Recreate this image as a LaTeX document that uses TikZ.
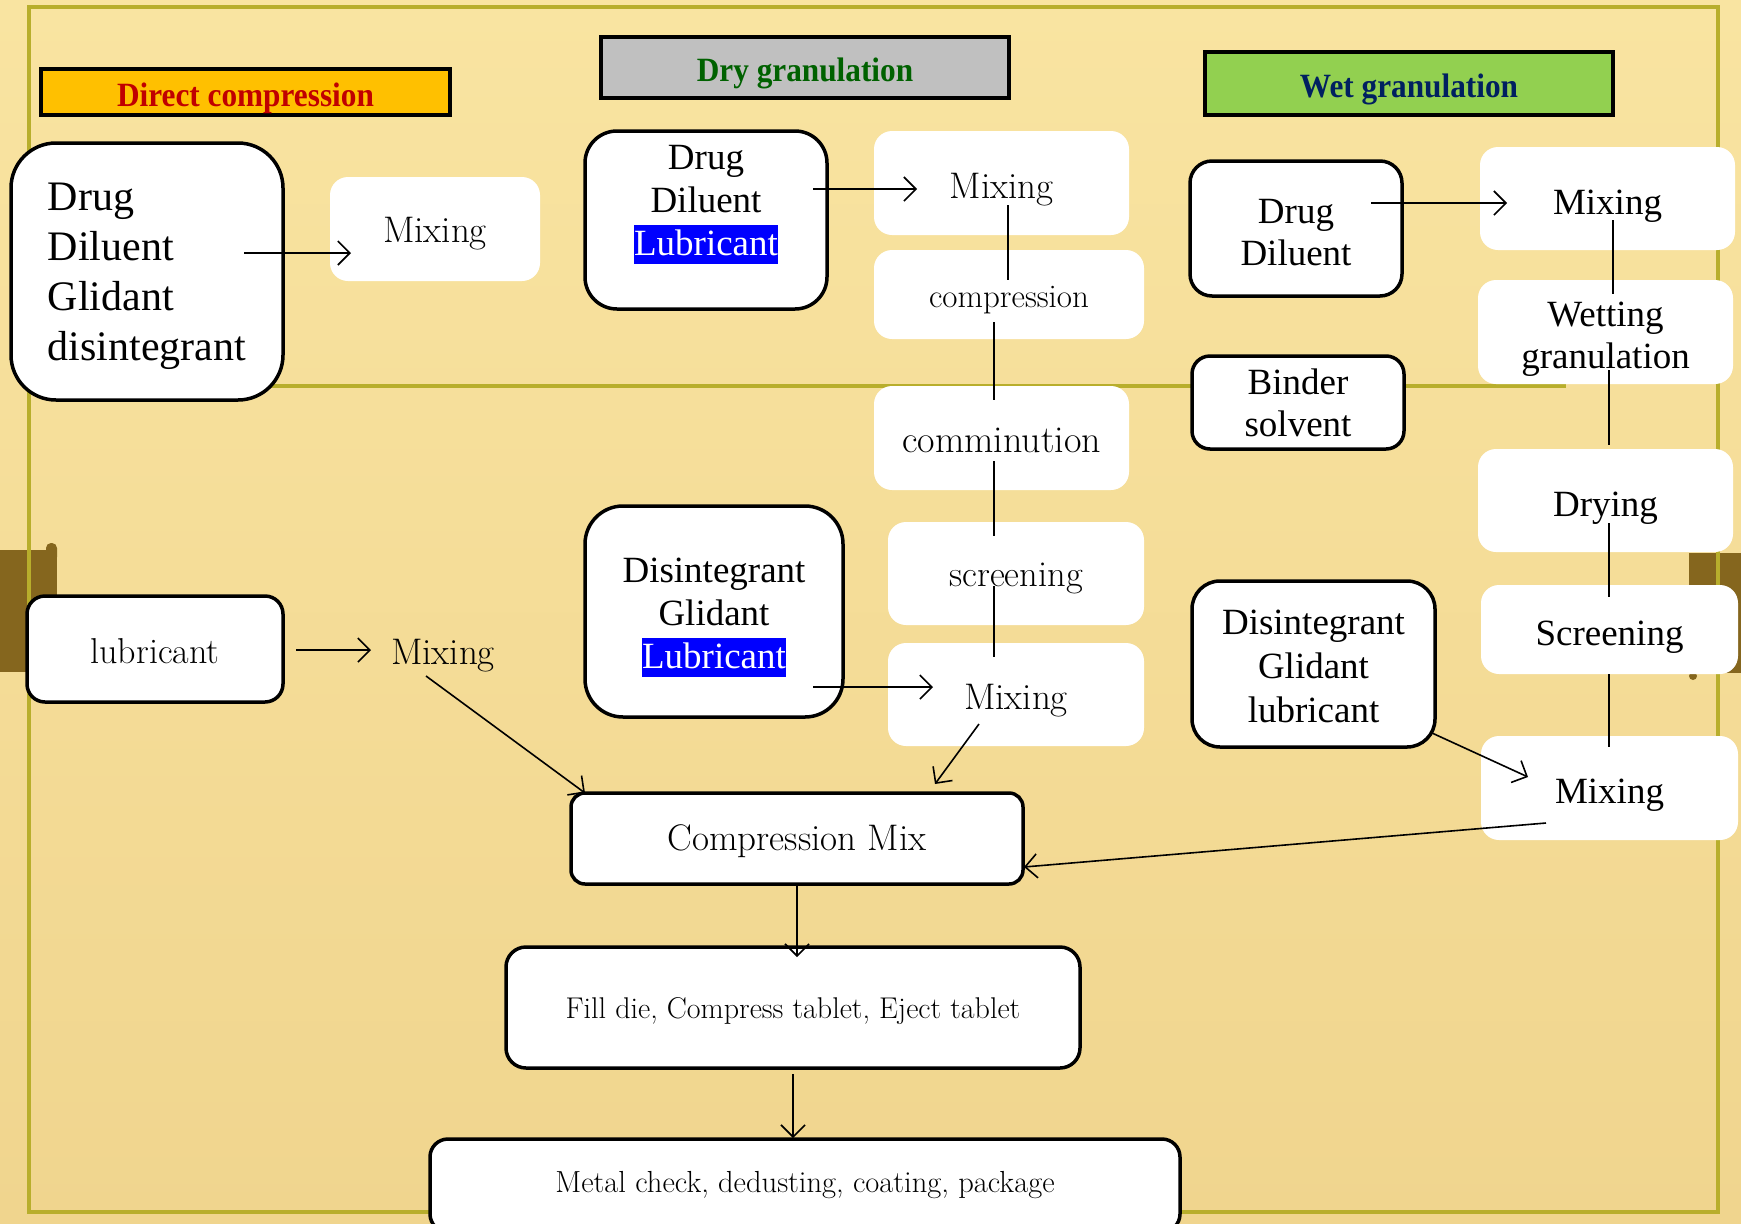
\documentclass[tikz,border=0pt]{standalone}
\usepackage{fontspec}
\newfontfamily\tnr{Liberation Serif}
\usetikzlibrary{arrows.meta,calc}
\definecolor{bgtop}{HTML}{F9E4A1}
\definecolor{bgbot}{HTML}{F0D58E}
\definecolor{olive}{HTML}{B8AE2C}
\definecolor{tab}{HTML}{85661E}
\definecolor{dcfill}{HTML}{FFC000}
\definecolor{dcText}{HTML}{C00000}
\definecolor{dryfill}{HTML}{C0C0C0}
\definecolor{dryText}{HTML}{006100}
\definecolor{wetfill}{HTML}{92D050}
\definecolor{wetText}{HTML}{002060}
\newcommand\fs[2]{\fontsize{#1}{#2}\selectfont}
\newcommand\dn[1]{\rule{0pt}{#1pt}}
\newcommand\hlbox[1]{{\setlength{\fboxsep}{0pt}\colorbox{blue}{\color{white}\rule[-8pt]{0pt}{39pt}#1}}}
\newcommand\hdtext[1]{\scalebox{0.92}[1]{#1}}
\begin{document}
\begin{tikzpicture}[x=1pt,y=-1pt,
  bbox/.style={draw=black, line width=3.5pt, fill=white, inner sep=0pt, align=center},
  wbox/.style={fill=white, rounded corners=18pt, inner sep=0pt, align=center},
  hdr/.style={draw=black, line width=4pt, inner sep=0pt},
  hdrtxt/.style={inner sep=0pt, font=\tnr\bfseries\fs{34}{38}},
  conn/.style={line width=1.6pt},
  arr/.style={conn, -{Straight Barb[length=12pt,width=24pt]}}]
\useasboundingbox (0,0) rectangle (1741,1224);
\clip (0,0) rectangle (1741,1224);
\shade[top color=bgtop,bottom color=bgbot] (0,0) rectangle (1741,1224);
% side tabs
\fill[tab] (0,550) rectangle (57,672);
\fill[tab, rounded corners=5pt] (46,543) rectangle (57,562);
\fill[tab] (1689,553) rectangle (1741,673);
\fill[tab] (1693,676) circle (4);
% frame
\draw[olive, line width=4pt] (29,7) rectangle (1718,1212);
\draw[olive, line width=4pt] (29,386) -- (1566,386);
% headers
\node[hdr, fill=dcfill, minimum width=409pt, minimum height=46pt] (hdc) at (245.5,92) {};
\node[hdrtxt, text=dcText] (hdctxt) at (245.5,98) {\hdtext{Direct compression}};
\node[hdr, fill=dryfill, minimum width=408pt, minimum height=61pt] (hdry) at (805,67.5) {};
\node[hdrtxt, text=dryText] (hdrytxt) at (805,73.5) {\hdtext{Dry granulation}};
\node[hdr, fill=wetfill, minimum width=408pt, minimum height=63pt] (hwet) at (1409,83.5) {};
\node[hdrtxt, text=wetText] (hwettxt) at (1409,89.5) {\hdtext{Wet granulation}};
% direct compression
\node[bbox, rounded corners=45pt, minimum width=272pt, minimum height=257pt, align=left, font=\tnr\fs{42}{50}] (dcin) at (147,271.5) {\dn{38}Drug\\Diluent\\Glidant\\disintegrant};
\node[wbox, minimum width=210pt, minimum height=104pt, font=\fs{37}{42}] (dcmix) at (435,229) {\dn{34.5}Mixing};
\node[bbox, rounded corners=18pt, minimum width=256pt, minimum height=106pt, font=\fs{36}{42}] (dclub) at (155,649) {\dn{29.4}lubricant};
\node[inner sep=0pt, font=\fs{37}{42}] (dcmix2) at (443,656) {Mixing};
% dry granulation
\node[bbox, rounded corners=32pt, minimum width=242pt, minimum height=178pt] (dryin) at (706,220) {};
\node[inner sep=0pt, align=center, font=\tnr\fs{37}{43}] (dryintxt) at (706,204.5) {Drug\\Diluent\\\hlbox{Lubricant}};
\node[wbox, minimum width=255pt, minimum height=104pt, font=\fs{37}{42}] (drymix) at (1001.5,183) {\dn{39}Mixing};
\node[wbox, minimum width=270pt, minimum height=89pt, font=\fs{33}{38}] (drycomp) at (1009,294.5) {\dn{33}compression};
\node[wbox, minimum width=255pt, minimum height=104pt, font=\fs{38}{44}] (drycomm) at (1001.5,438) {\dn{30}comminution};
\node[wbox, minimum width=256pt, minimum height=103pt, font=\fs{36.5}{42}] (dryscr) at (1016,573.5) {\dn{33.3}screening};
\node[wbox, minimum width=256pt, minimum height=103pt, font=\fs{37}{42}] (drymix2) at (1016,694.5) {\dn{36.7}Mixing};
\node[bbox, rounded corners=38pt, minimum width=258pt, minimum height=211pt, font=\tnr\fs{37}{43}] (dryin2) at (714,611.5) {\dn{36.5}Disintegrant\\Glidant\\\hlbox{Lubricant}};
% common
\node[bbox, rounded corners=14pt, minimum width=452pt, minimum height=91pt, font=\fs{37}{42}] (cmix) at (797,838.5) {\dn{32}Compression Mix};
\node[bbox, rounded corners=20pt, minimum width=574pt, minimum height=121pt, font=\fs{30}{36}] (fill) at (793,1007.5) {\dn{27.4}Fill die, Compress tablet, Eject tablet};
\node[bbox, rounded corners=18pt, minimum width=750pt, minimum height=93pt, font=\fs{30.5}{36}] (metal) at (805,1185.5) {Metal check, dedusting, coating, package};
% wet granulation
\node[bbox, rounded corners=22pt, minimum width=212pt, minimum height=135pt, font=\tnr\fs{37}{42}] (wetin) at (1296,228.5) {\dn{32}Drug\\Diluent};
\node[wbox, minimum width=255pt, minimum height=103pt, font=\tnr\fs{37}{42}] (wetmix) at (1607.5,198.5) {\dn{39}Mixing};
\node[wbox, minimum width=255pt, minimum height=104pt, font=\tnr\fs{37}{42}] (wetwet) at (1605.5,332) {\dn{39}Wetting\\granulation};
\node[bbox, rounded corners=18pt, minimum width=212pt, minimum height=93pt, font=\tnr\fs{37}{42}] (binder) at (1298,402.5) {Binder\\solvent};
\node[wbox, minimum width=255pt, minimum height=103pt, font=\tnr\fs{37}{42}] (wetdry) at (1605.5,500.5) {\dn{39}Drying};
\node[wbox, minimum width=257pt, minimum height=89pt, font=\tnr\fs{37}{42}] (wetscr) at (1609.5,629.5) {\dn{39}Screening};
\node[wbox, minimum width=257pt, minimum height=104pt, font=\tnr\fs{37}{42}] (wetmix2) at (1609.5,788) {\dn{39}Mixing};
\node[bbox, rounded corners=28pt, minimum width=243pt, minimum height=166pt, font=\tnr\fs{37}{44}] (wetin2) at (1313.5,664) {\dn{30}Disintegrant\\Glidant\\lubricant};
% connectors
\draw[arr] ($(dcin.center)+(97,-18.5)$) -- ($(dcmix.center)+(-84,24)$);
\draw[arr] ($(dryin.center)+(107,-31)$) -- ($(drymix.center)+(-84.5,6)$);
\draw[conn] ($(drymix.center)+(6.5,22)$) -- ($(drycomp.center)+(-1,-14.5)$);
\draw[conn] ($(drycomp.center)+(-15,27.5)$) -- ($(drycomm.center)+(-7.5,-38)$);
\draw[conn] ($(drycomm.center)+(-7.5,23)$) -- ($(dryscr.center)+(-22,-37.5)$);
\draw[conn] ($(dryscr.center)+(-22,12.5)$) -- ($(drymix2.center)+(-22,-37.5)$);
\draw[arr] ($(dryin2.center)+(99,75.5)$) -- ($(drymix2.center)+(-83,-7.5)$);
\draw[arr] ($(drymix2.center)+(-37,29.5)$) -- ($(cmix.center)+(138,-54.5)$);
\draw[arr] ($(dclub.center)+(141,1)$) -- ($(dcmix2.center)+(-72,-6)$);
\draw[arr] ($(dcmix2.center)+(-17,20)$) -- ($(cmix.center)+(-212,-45.5)$);
\draw[arr] ($(cmix.center)+(0,45.5)$) -- ($(fill.center)+(4,-50.5)$);
\draw[arr] ($(fill.center)+(0,66.5)$) -- ($(metal.center)+(-12,-47.5)$);
\draw[arr] ($(wetin.center)+(75,-25.5)$) -- ($(wetmix.center)+(-100.5,4.5)$);
\draw[conn] ($(wetmix.center)+(5.5,21.5)$) -- ($(wetwet.center)+(7.5,-38)$);
\draw[conn] ($(wetwet.center)+(3.5,38)$) -- ($(wetdry.center)+(3.5,-55.5)$);
\draw[conn] ($(wetdry.center)+(3.5,22.5)$) -- ($(wetscr.center)+(-0.5,-32.5)$);
\draw[conn] ($(wetscr.center)+(-0.5,44.5)$) -- ($(wetmix2.center)+(-0.5,-41)$);
\draw[arr] ($(wetin2.center)+(118.5,69)$) -- ($(wetmix2.center)+(-81.5,-11)$);
\draw[arr] ($(wetmix2.center)+(-63.5,35)$) -- ($(cmix.center)+(227,28.5)$);
\end{tikzpicture}
\end{document}
